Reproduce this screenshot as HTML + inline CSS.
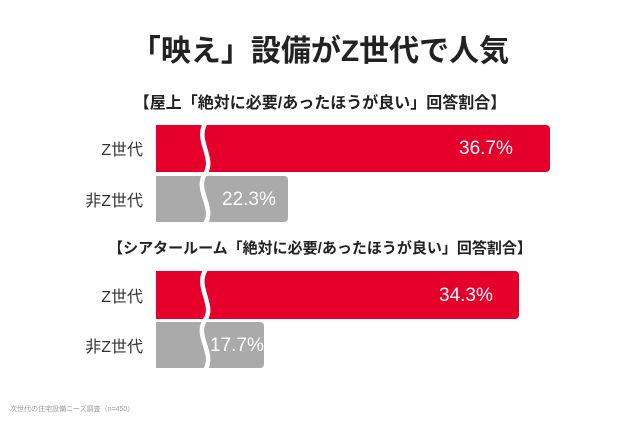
<!DOCTYPE html>
<html><head><meta charset="utf-8"><style>
body{margin:0;width:640px;height:426px;background:#fff;font-family:"Liberation Sans","Noto Sans CJK JP",sans-serif;position:relative;overflow:hidden}
.t{position:absolute;white-space:nowrap;color:#222}
.bar{position:absolute;left:156px;border-radius:0 4px 4px 0}
.r{background:#e4002b}.g{background:#aaaaaa}
.p{position:absolute;color:#fff;font-size:19px;white-space:nowrap}
.lab{position:absolute;right:497px;font-size:16px;color:#333;white-space:nowrap}
</style></head><body>
<div class="t" style="left:0;width:640px;text-align:center;top:26px;font-size:30px;font-weight:bold">「映え」設備がZ世代で人気</div>
<div class="t" style="left:0;width:640px;text-align:center;top:89px;font-size:16px;font-weight:bold">【屋上「絶対に必要/あったほうが良い」回答割合】</div>
<div class="t" style="left:0;width:640px;text-align:center;top:237px;font-size:15px;font-weight:bold">【シアタールーム「絶対に必要/あったほうが良い」回答割合】</div>

<div class="bar r" style="top:125px;height:47px;width:394px"></div>
<div class="bar g" style="top:176px;height:46px;width:132px"></div>
<div class="bar r" style="top:271px;height:48px;width:363px"></div>
<div class="bar g" style="top:322px;height:46px;width:108px"></div>

<svg style="position:absolute;left:0;top:0" width="640" height="426">
<g fill="none" stroke="#fff" stroke-width="4.5">
<path d="M206 122 C194 140,216 158,205 174 C194 190,216 208,205 224"/>
<path d="M206 269 C194 287,216 305,205 320 C194 336,216 354,205 370"/>
</g></svg>

<div class="lab" style="top:136px">Z世代</div>
<div class="lab" style="top:187px">非Z世代</div>
<div class="lab" style="top:283px">Z世代</div>
<div class="lab" style="top:333px">非Z世代</div>

<div class="p" style="left:459px;top:138px">36.7%</div>
<div class="p" style="left:222px;top:189px">22.3%</div>
<div class="p" style="left:439px;top:285px">34.3%</div>
<div class="p" style="left:210px;top:335px">17.7%</div>

<div class="t" style="left:10px;top:404px;font-size:7px;color:#999">次世代の住宅設備ニーズ調査（n=450）</div>
</body></html>
